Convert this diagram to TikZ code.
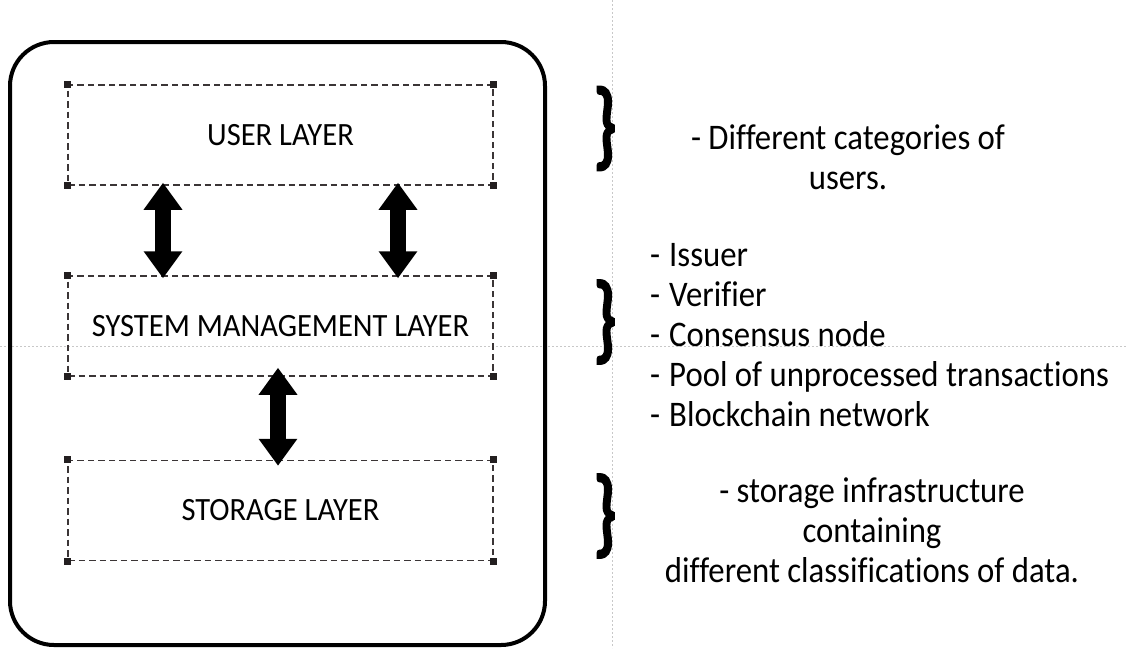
\documentclass[tikz,border=0pt]{standalone}
\usepackage{fontspec}
\setmainfont{Carlito}
\newfontfamily\labelfont{Carlito}[FakeStretch=0.94]
\newfontfamily\notefont{Carlito}[FakeStretch=0.91, Ligatures=NoCommon]
\newfontfamily\bracefont{Carlito}[FakeBold=4]
\usetikzlibrary{arrows.meta,calc}
\definecolor{ink}{HTML}{231F20}
\definecolor{dashc}{HTML}{3B3536}
\definecolor{guide}{HTML}{C8C8C8}
\tikzset{
  layerbox/.style={draw=dashc, line width=1.5pt, dash pattern=on 6.5pt off 4pt,
    minimum width=425pt, minimum height=100pt, inner sep=0pt,
    font=\labelfont\fontsize{32.5}{36}\selectfont},
  handle/.style={fill=ink, minimum size=7pt, inner sep=0pt},
  dblarrow/.style={line width=16pt,
    {Triangle[width=37pt,length=27pt]}-{Triangle[width=37pt,length=27pt]}},
  note/.style={font=\notefont\fontsize{36}{40}\selectfont, inner sep=0pt},
  bracetxt/.style={inner sep=0pt},
  guideline/.style={guide, line width=0.8pt, dash pattern=on 2pt off 2pt}
}
\newcommand{\bigbrace}{\resizebox*{22pt}{82pt}{\bracefont\}}}
\begin{document}
\begin{tikzpicture}[x=1pt,y=-1pt]
\useasboundingbox (0,0) rectangle (1126,648);
% layout guides
\draw[guideline] (612,0) -- (612,648);
\draw[guideline] (0,346) -- (1126,346);
% outer frame
\draw[line width=4pt, rounded corners=44pt] (10,42) rectangle (545,645);
% layers
\node[layerbox] (user) at (280.5,135) {USER LAYER};
\node[layerbox] (sys) at (280.5,326) {SYSTEM MANAGEMENT LAYER};
\node[layerbox] (store) at (280.5,510.5) {STORAGE LAYER};
\foreach \b in {user,sys,store}{
  \foreach \c in {north west,north east,south west,south east}
    \node[handle] at (\b.\c) {};
}
% connectors
\coordinate (xa) at (163,0);
\coordinate (xb) at (398,0);
\coordinate (xc) at (278,0);
\draw[dblarrow] ($(user.south -| xa)+(0,-3)$) -- ($(sys.north -| xa)+(0,3)$);
\draw[dblarrow] ($(user.south -| xb)+(0,-3)$) -- ($(sys.north -| xb)+(0,3)$);
\draw[dblarrow] ($(sys.south -| xc)+(0,-9)$) -- ($(store.north -| xc)+(0,6)$);
% braces
\node[bracetxt] (b1) at (605,128.5) {\bigbrace};
\node[bracetxt] (b2) at (605,322) {\bigbrace};
\node[bracetxt] (b3) at (605,516) {\bigbrace};
% descriptions
\node[note, align=center] (n1) at (848,157) {- Different categories of\\users.};
\node[note, align=left, anchor=north west] (n2) at (650,243) {-\hspace{9pt}Issuer\\-\hspace{9pt}Verifier\\-\hspace{9pt}Consensus node\\-\hspace{9pt}Pool of unprocessed transactions\\-\hspace{9pt}Blockchain network};
\node[note, align=center] (n3) at (872,530) {- storage infrastructure\\containing\\different classifications of data.};
\end{tikzpicture}
\end{document}
